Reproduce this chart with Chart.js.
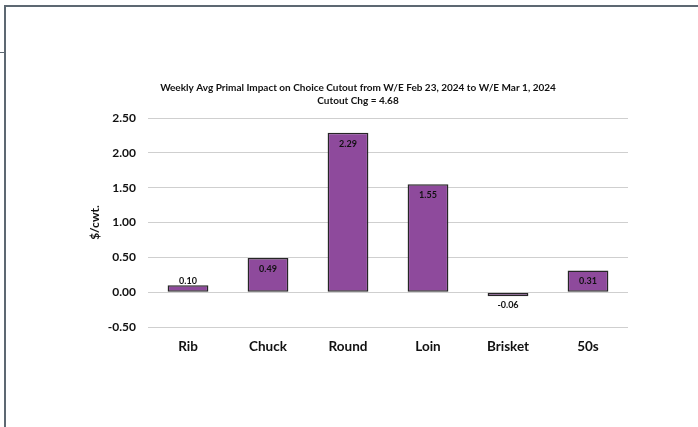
<!DOCTYPE html>
<html>
<head>
<meta charset="utf-8">
<script src="https://cdn.jsdelivr.net/npm/chart.js@4"></script>
<style>
  html, body { margin: 0; padding: 0; background: #fff; }
  body { width: 698px; height: 427px; position: relative; overflow: hidden; }
  .frame-top { position: absolute; left: 4px; top: 5px; width: 694px; height: 2px; background: #5d6872; }
  .frame-left { position: absolute; left: 4px; top: 5px; width: 2px; height: 422px; background: #5d6872; }
  .tick { position: absolute; left: 0; top: 52px; width: 4px; height: 1px; background: #5d6872; }
  #wrap { position: absolute; left: 60px; top: 70px; width: 594px; height: 290px; }
</style>
</head>
<body>
<div class="frame-top"></div>
<div class="frame-left"></div>
<div class="tick"></div>
<div id="wrap"><canvas id="myChart"></canvas></div>
<script>
const categories = ["Rib", "Chuck", "Round", "Loin", "Brisket", "50s"];
const impact = [0.10, 0.49, 2.29, 1.55, -0.06, 0.31];
const titleLines = [
	"Weekly Avg Primal Impact on Choice Cutout from W/E Feb 23, 2024 to W/E Mar 1, 2024",
	"Cutout Chg = 4.68",
];
const yTitle = "$/cwt.";

const FONT = "Lato, Carlito, Calibri, sans-serif";

// value labels: inside the bar end, above it when the bar is too short
const barLabels = {
	id: "barLabels",
	afterDatasetsDraw(chart) {
		const ctx = chart.ctx;
		const meta = chart.getDatasetMeta(0);
		ctx.save();
		ctx.font = `bold 9px ${FONT}`;
		ctx.fillStyle = "#111";
		ctx.textAlign = "center";
		ctx.textBaseline = "middle";
		meta.data.forEach((bar, i) => {
			const v = impact[i];
			const h = Math.abs(bar.base - bar.y);
			let y;
			if (v < 0) y = bar.y + 9;
			else if (h < 20) y = bar.y - 4;
			else y = bar.y + 11;
			ctx.fillText(v.toFixed(2), bar.x, y);
		});
		ctx.restore();
	},
};

const ctx = document.getElementById("myChart").getContext("2d");
const myChart = new Chart(ctx, {
	type: "bar",
	data: {
		labels: categories,
		datasets: [
			{
				data: impact,
				backgroundColor: "#8e4a9c",
				borderColor: "#262626",
				borderWidth: 1.5,
				borderSkipped: false,
				barPercentage: 0.51,
				categoryPercentage: 1,
			},
		],
	},
	options: {
		responsive: true,
		maintainAspectRatio: false,
		animation: false,
		layout: { padding: { left: 28, right: 26, top: 0, bottom: 0 } },
		plugins: {
			legend: { display: false },
			tooltip: { enabled: false },
			title: {
				display: true,
				text: titleLines,
				color: "#111",
				font: { family: FONT, size: 10, weight: "bold", lineHeight: 1.3 },
				padding: { top: 11, bottom: 11 },
			},
		},
		scales: {
			x: {
				grid: { display: false, drawTicks: false },
				border: { display: false },
				ticks: {
					color: "#111",
					font: { family: FONT, size: 13.5, weight: "bold" },
					padding: 12,
				},
				afterFit: (s) => { s.height = 33; },
			},
			y: {
				min: -0.5,
				max: 2.5,
				ticks: {
					stepSize: 0.5,
					color: "#111",
					font: { family: FONT, size: 12, weight: "bold" },
					padding: 12,
					callback: (v) => Number(v).toFixed(2),
				},
				grid: { color: "#cfcfcf", lineWidth: 1, drawTicks: false },
				border: { display: false },
				title: {
					display: true,
					text: yTitle,
					color: "#111",
					font: { family: FONT, size: 12, weight: "bold" },
					padding: { top: 0, bottom: 6 },
				},
				afterFit: (s) => { s.width = 60; },
			},
		},
	},
	plugins: [barLabels],
});
</script>
</body>
</html>
